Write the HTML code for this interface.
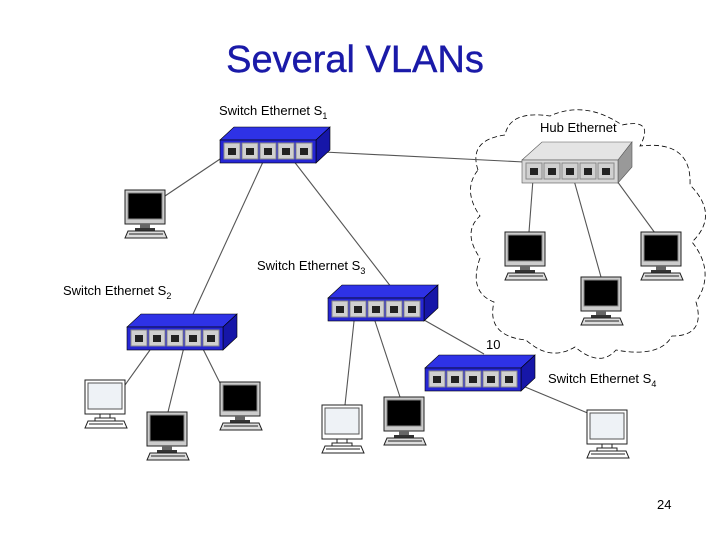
<!DOCTYPE html>
<html><head><style>
body{margin:0;width:720px;height:540px;background:#fff;overflow:hidden}
svg{display:block}
text{font-family:"Liberation Sans",sans-serif}
</style></head><body>
<svg width="720" height="540" viewBox="0 0 720 540">
<defs>
<g id="pc">
<rect x="0" y="0" width="40" height="34" fill="#ccc" stroke="#222"/>
<rect x="3" y="3" width="34" height="26" fill="#000" stroke="#888"/>
<rect x="15" y="34" width="10" height="4" fill="#666"/>
<rect x="10" y="38" width="20" height="3" fill="#333"/>
<polygon points="3,41 39,41 42,48 0,48" fill="#ddd" stroke="#222"/>
<line x1="4" y1="44" x2="38" y2="44" stroke="#222"/>
</g>
<g id="pcw">
<rect x="0" y="0" width="40" height="34" fill="#fff" stroke="#222"/>
<rect x="3" y="3" width="34" height="26" fill="#eef2f6" stroke="#555"/>
<rect x="15" y="34" width="10" height="4" fill="#fff" stroke="#222"/>
<rect x="10" y="38" width="20" height="3" fill="#fff" stroke="#222"/>
<polygon points="3,41 39,41 42,48 0,48" fill="#fff" stroke="#222"/>
<line x1="4" y1="44" x2="38" y2="44" stroke="#222"/>
</g>
<g id="ports">
<g fill="#d0d0d0" stroke="#888"><rect x="4" y="16" width="16" height="16"/><rect x="22" y="16" width="16" height="16"/><rect x="40" y="16" width="16" height="16"/><rect x="58" y="16" width="16" height="16"/><rect x="76" y="16" width="16" height="16"/></g>
<g fill="#222"><rect x="8" y="21" width="8" height="7"/><rect x="26" y="21" width="8" height="7"/><rect x="44" y="21" width="8" height="7"/><rect x="62" y="21" width="8" height="7"/><rect x="80" y="21" width="8" height="7"/></g>
</g>
<g id="sw">
<polygon points="0,13 14,0 110,0 96,13" fill="#2e32e6" stroke="#000" stroke-width="0.6"/>
<polygon points="96,13 110,0 110,23 96,36" fill="#1616a8" stroke="#000" stroke-width="0.6"/>
<rect x="0" y="13" width="96" height="23" fill="#2626d4" stroke="#000" stroke-width="0.6"/>
<use href="#ports"/>
</g>
<g id="hub">
<polygon points="0,13 20,-5 110,-5 96,13" fill="#e4e4e4" stroke="#555" stroke-width="0.6"/>
<polygon points="96,13 110,-5 110,20 96,36" fill="#999" stroke="#555" stroke-width="0.6"/>
<rect x="0" y="13" width="96" height="23" fill="#d8d8d8" stroke="#555" stroke-width="0.6"/>
<use href="#ports"/>
</g>
</defs>

<text x="355" y="72" text-anchor="middle" font-size="38" fill="#1a1aa8" stroke="#1a1aa8" stroke-width="0.4">Several VLANs</text>

<path d="M478,170 Q468,140 505,135 Q510,110 550,116 Q585,100 622,125 Q655,118 640,146 Q692,140 690,185 Q720,215 692,242 Q716,272 696,302 Q706,336 672,336 Q660,358 616,350 Q600,368 575,347 Q550,362 526,340 Q486,336 494,302 Q468,292 480,258 Q462,232 480,216 Q462,190 478,170 Z" fill="none" stroke="#000" stroke-dasharray="5,3" stroke-width="0.8"/>

<g stroke="#555" stroke-width="1.1">
<line x1="232" y1="151" x2="162" y2="198"/>
<line x1="268" y1="151" x2="188" y2="325"/>
<line x1="286" y1="151" x2="395" y2="292"/>
<line x1="304" y1="151" x2="524" y2="162"/>
<line x1="534" y1="166" x2="529" y2="232"/>
<line x1="570" y1="166" x2="601" y2="277"/>
<line x1="606" y1="166" x2="655" y2="233"/>
<line x1="150" y1="350" x2="125" y2="385"/>
<line x1="185" y1="343" x2="168" y2="412"/>
<line x1="200" y1="343" x2="221" y2="385"/>
<line x1="355" y1="312" x2="345" y2="405"/>
<line x1="372" y1="312" x2="400" y2="397"/>
<line x1="410" y1="312" x2="484" y2="354"/>
<line x1="506" y1="379" x2="602" y2="419"/>
</g>

<use href="#sw" x="220" y="127"/>
<use href="#sw" x="127" y="314"/>
<use href="#sw" x="328" y="285"/>
<use href="#sw" x="425" y="355"/>
<use href="#hub" x="522" y="147"/>

<use href="#pc" x="125" y="190"/>
<use href="#pcw" x="85" y="380"/>
<use href="#pc" x="147" y="412"/>
<use href="#pc" x="220" y="382"/>
<use href="#pcw" x="322" y="405"/>
<use href="#pc" x="384" y="397"/>
<use href="#pc" x="505" y="232"/>
<use href="#pc" x="581" y="277"/>
<use href="#pc" x="641" y="232"/>
<use href="#pcw" x="587" y="410"/>

<g font-size="13" fill="#000">
<text x="219" y="115">Switch Ethernet S<tspan font-size="9" dy="4">1</tspan></text>
<text x="540" y="132">Hub Ethernet</text>
<text x="257" y="270">Switch Ethernet S<tspan font-size="9" dy="4">3</tspan></text>
<text x="63" y="295">Switch Ethernet S<tspan font-size="9" dy="4">2</tspan></text>
<text x="486" y="349">10</text>
<text x="548" y="383">Switch Ethernet S<tspan font-size="9" dy="4">4</tspan></text>
<text x="657" y="509">24</text>
</g>
</svg>
</body></html>
